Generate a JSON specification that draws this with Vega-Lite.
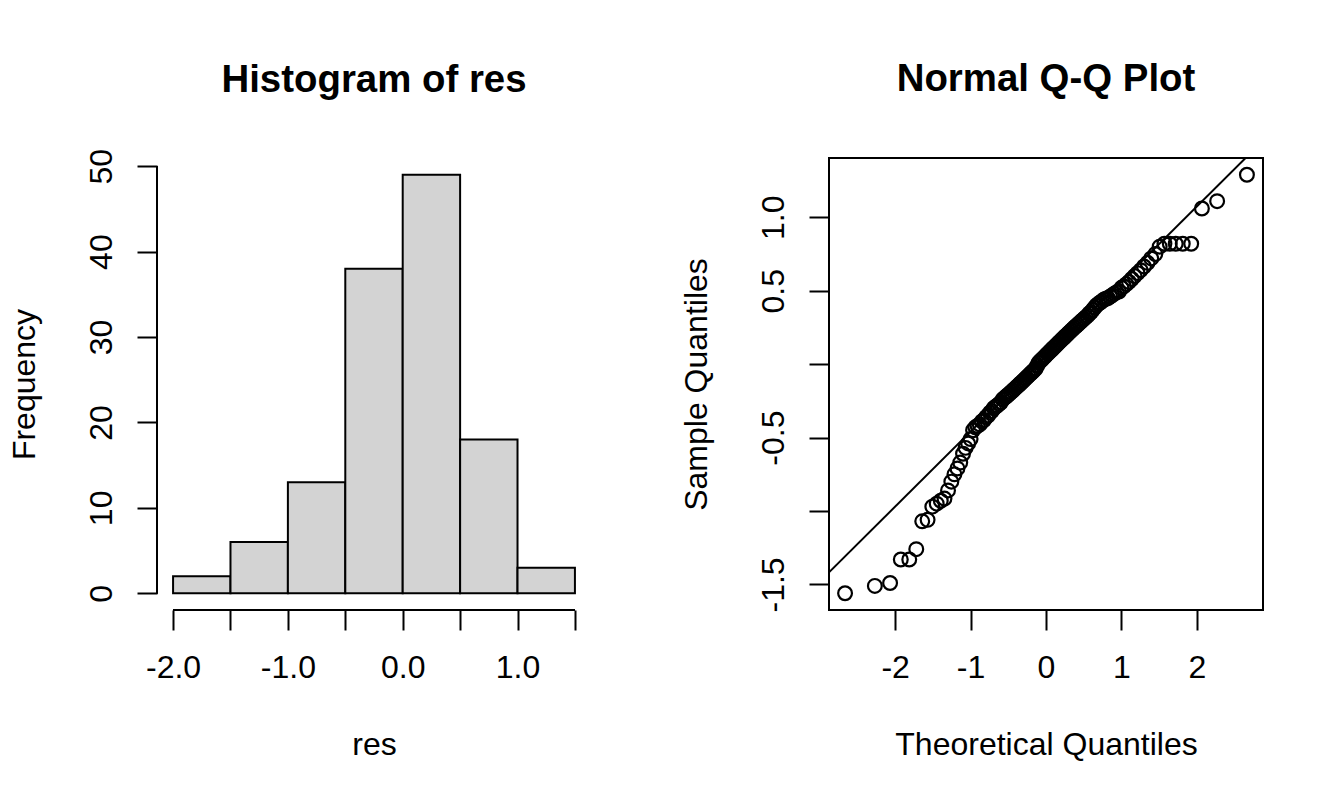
{
  "$schema": "https://vega.github.io/schema/vega-lite/v6.json",
  "background": "white",
  "padding": {"left": 8, "top": 58, "right": 0, "bottom": 0},
  "bounds": "flush",
  "spacing": 238,
  "config": {
    "font": "Liberation Sans",
    "view": {"stroke": null},
    "axis": {
      "domain": false,
      "grid": false,
      "ticks": true,
      "tickColor": "black",
      "tickWidth": 2,
      "tickSize": 20,
      "labelFont": "Liberation Sans",
      "labelFontSize": 32,
      "labelColor": "black",
      "labelOverlap": false,
      "labelFlush": false,
      "titleFont": "Liberation Sans",
      "titleFontSize": 32,
      "titleFontWeight": "normal",
      "titleColor": "black"
    },
    "axisX": {"labelPadding": 22, "titlePadding": 46},
    "axisY": {"labelPadding": 19, "labelAngle": 270, "labelAlign": "center", "labelBaseline": "bottom", "titlePadding": 44},
    "title": {"font": "Liberation Sans", "fontSize": 38.4, "fontWeight": "bold", "color": "black", "anchor": "middle", "frame": "group"}
  },
  "datasets": {
    "hist": [
      {"bin_start": -2.0, "bin_end": -1.5, "count": 2},
      {"bin_start": -1.5, "bin_end": -1.0, "count": 6},
      {"bin_start": -1.0, "bin_end": -0.5, "count": 13},
      {"bin_start": -0.5, "bin_end": 0.0, "count": 38},
      {"bin_start": 0.0, "bin_end": 0.5, "count": 49},
      {"bin_start": 0.5, "bin_end": 1.0, "count": 18},
      {"bin_start": 1.0, "bin_end": 1.5, "count": 3}
    ],
    "qqline": [
      {"q": -2.877, "res": -1.418},
      {"q": 2.877, "res": 1.522}
    ],
    "qq": [
      {"q": -2.664, "res": -1.56}, {"q": -2.269, "res": -1.51}, {"q": -2.067, "res": -1.49},
      {"q": -1.925, "res": -1.33}, {"q": -1.813, "res": -1.33}, {"q": -1.72, "res": -1.26},
      {"q": -1.641, "res": -1.07}, {"q": -1.57, "res": -1.06}, {"q": -1.507, "res": -0.97},
      {"q": -1.449, "res": -0.95}, {"q": -1.395, "res": -0.93}, {"q": -1.346, "res": -0.915},
      {"q": -1.299, "res": -0.86}, {"q": -1.255, "res": -0.8}, {"q": -1.214, "res": -0.75},
      {"q": -1.174, "res": -0.71}, {"q": -1.137, "res": -0.67}, {"q": -1.1, "res": -0.61},
      {"q": -1.066, "res": -0.57}, {"q": -1.032, "res": -0.54}, {"q": -1.0, "res": -0.51},
      {"q": -0.967, "res": -0.45}, {"q": -0.937, "res": -0.43}, {"q": -0.907, "res": -0.42},
      {"q": -0.878, "res": -0.41}, {"q": -0.85, "res": -0.39}, {"q": -0.822, "res": -0.38},
      {"q": -0.795, "res": -0.36}, {"q": -0.769, "res": -0.35}, {"q": -0.743, "res": -0.33},
      {"q": -0.718, "res": -0.32}, {"q": -0.693, "res": -0.3}, {"q": -0.668, "res": -0.29},
      {"q": -0.644, "res": -0.28}, {"q": -0.62, "res": -0.27}, {"q": -0.597, "res": -0.26},
      {"q": -0.574, "res": -0.24}, {"q": -0.551, "res": -0.23}, {"q": -0.528, "res": -0.22},
      {"q": -0.506, "res": -0.21}, {"q": -0.484, "res": -0.2}, {"q": -0.463, "res": -0.19},
      {"q": -0.441, "res": -0.18}, {"q": -0.42, "res": -0.17}, {"q": -0.399, "res": -0.16},
      {"q": -0.378, "res": -0.15}, {"q": -0.357, "res": -0.14}, {"q": -0.337, "res": -0.13},
      {"q": -0.316, "res": -0.12}, {"q": -0.296, "res": -0.11}, {"q": -0.276, "res": -0.1},
      {"q": -0.256, "res": -0.09}, {"q": -0.236, "res": -0.08}, {"q": -0.216, "res": -0.07},
      {"q": -0.196, "res": -0.06}, {"q": -0.176, "res": -0.05}, {"q": -0.156, "res": -0.04},
      {"q": -0.137, "res": -0.03}, {"q": -0.117, "res": -0.01}, {"q": -0.097, "res": 0.01},
      {"q": -0.078, "res": 0.02}, {"q": -0.058, "res": 0.03}, {"q": -0.039, "res": 0.04},
      {"q": -0.019, "res": 0.05}, {"q": 0.0, "res": 0.06}, {"q": 0.019, "res": 0.07},
      {"q": 0.039, "res": 0.08}, {"q": 0.058, "res": 0.09}, {"q": 0.078, "res": 0.1},
      {"q": 0.097, "res": 0.11}, {"q": 0.117, "res": 0.12}, {"q": 0.137, "res": 0.13},
      {"q": 0.156, "res": 0.14}, {"q": 0.176, "res": 0.15}, {"q": 0.196, "res": 0.16},
      {"q": 0.216, "res": 0.17}, {"q": 0.236, "res": 0.18}, {"q": 0.256, "res": 0.19},
      {"q": 0.276, "res": 0.2}, {"q": 0.296, "res": 0.21}, {"q": 0.316, "res": 0.22},
      {"q": 0.337, "res": 0.23}, {"q": 0.357, "res": 0.24}, {"q": 0.378, "res": 0.25},
      {"q": 0.399, "res": 0.26}, {"q": 0.42, "res": 0.27}, {"q": 0.441, "res": 0.28},
      {"q": 0.463, "res": 0.29}, {"q": 0.484, "res": 0.3}, {"q": 0.506, "res": 0.31},
      {"q": 0.528, "res": 0.32}, {"q": 0.551, "res": 0.33}, {"q": 0.574, "res": 0.345},
      {"q": 0.597, "res": 0.355}, {"q": 0.62, "res": 0.37}, {"q": 0.644, "res": 0.385},
      {"q": 0.668, "res": 0.4}, {"q": 0.693, "res": 0.41}, {"q": 0.718, "res": 0.42},
      {"q": 0.743, "res": 0.43}, {"q": 0.769, "res": 0.44}, {"q": 0.795, "res": 0.445},
      {"q": 0.822, "res": 0.45}, {"q": 0.85, "res": 0.46}, {"q": 0.878, "res": 0.47},
      {"q": 0.907, "res": 0.48}, {"q": 0.937, "res": 0.49}, {"q": 0.967, "res": 0.495},
      {"q": 1.0, "res": 0.52}, {"q": 1.032, "res": 0.53}, {"q": 1.066, "res": 0.545},
      {"q": 1.1, "res": 0.56}, {"q": 1.137, "res": 0.58}, {"q": 1.174, "res": 0.6},
      {"q": 1.214, "res": 0.62}, {"q": 1.255, "res": 0.64}, {"q": 1.299, "res": 0.665},
      {"q": 1.346, "res": 0.69}, {"q": 1.395, "res": 0.72}, {"q": 1.449, "res": 0.75},
      {"q": 1.507, "res": 0.8}, {"q": 1.57, "res": 0.82}, {"q": 1.641, "res": 0.82},
      {"q": 1.72, "res": 0.82}, {"q": 1.813, "res": 0.82}, {"q": 1.925, "res": 0.82},
      {"q": 2.067, "res": 1.06}, {"q": 2.269, "res": 1.11}, {"q": 2.664, "res": 1.29}
    ]
  },
  "hconcat": [
    {
      "width": 434,
      "height": 452,
      "title": {"text": "Histogram of res", "offset": 48},
      "layer": [
        {
          "data": {"name": "hist"},
          "mark": {"type": "bar", "fill": "#D3D3D3", "stroke": "black", "strokeWidth": 2},
          "encoding": {
            "x": {"field": "bin_start", "type": "quantitative", "title": "res",
                  "scale": {"domain": [-2.14, 1.64], "nice": false, "zero": false},
                  "axis": {"values": [-2, -1.5, -1, -0.5, 0, 0.5, 1, 1.5],
                           "labelExpr": "datum.value % 1 === 0 ? (datum.value < 0 ? '-' : '') + format(abs(datum.value), '.1f') : ''"}},
            "x2": {"field": "bin_end"},
            "y": {"field": "count", "type": "quantitative", "title": "Frequency",
                  "scale": {"domain": [-1.96, 50.96], "nice": false, "zero": false},
                  "axis": {"values": [0, 10, 20, 30, 40, 50]}},
            "y2": {"datum": 0}
          }
        },
        {
          "data": {"name": "hist"},
          "mark": {"type": "rule", "color": "black", "strokeWidth": 2},
          "encoding": {
            "x": {"datum": -2},
            "x2": {"datum": 1.5},
            "y": {"datum": -1.96}
          }
        },
        {
          "data": {"name": "hist"},
          "mark": {"type": "rule", "color": "black", "strokeWidth": 2},
          "encoding": {
            "x": {"datum": -2.14},
            "y": {"datum": 0},
            "y2": {"datum": 50}
          }
        }
      ]
    },
    {
      "width": 434,
      "height": 452,
      "title": {"text": "Normal Q-Q Plot", "offset": 59},
      "view": {"stroke": "black", "strokeWidth": 2},
      "layer": [
        {
          "data": {"name": "qq"},
          "mark": {"type": "point", "shape": "circle", "filled": false, "color": "black", "strokeWidth": 2.2, "size": 190, "opacity": 1},
          "encoding": {
            "x": {"field": "q", "type": "quantitative", "title": "Theoretical Quantiles",
                  "scale": {"domain": [-2.877, 2.877], "nice": false, "zero": false},
                  "axis": {"values": [-2, -1, 0, 1, 2],
                           "labelExpr": "(datum.value < 0 ? '-' : '') + format(abs(datum.value), 'd')"}},
            "y": {"field": "res", "type": "quantitative", "title": "Sample Quantiles",
                  "scale": {"domain": [-1.674, 1.404], "nice": false, "zero": false},
                  "axis": {"values": [-1.5, -1, -0.5, 0, 0.5, 1],
                           "labelExpr": "(datum.value === -1 || datum.value === 0) ? '' : (datum.value < 0 ? '-' : '') + format(abs(datum.value), '.1f')"}}
          }
        },
        {
          "data": {"name": "qqline"},
          "mark": {"type": "line", "color": "black", "strokeWidth": 2, "clip": true},
          "encoding": {
            "x": {"field": "q", "type": "quantitative"},
            "y": {"field": "res", "type": "quantitative"}
          }
        }
      ]
    }
  ]
}
